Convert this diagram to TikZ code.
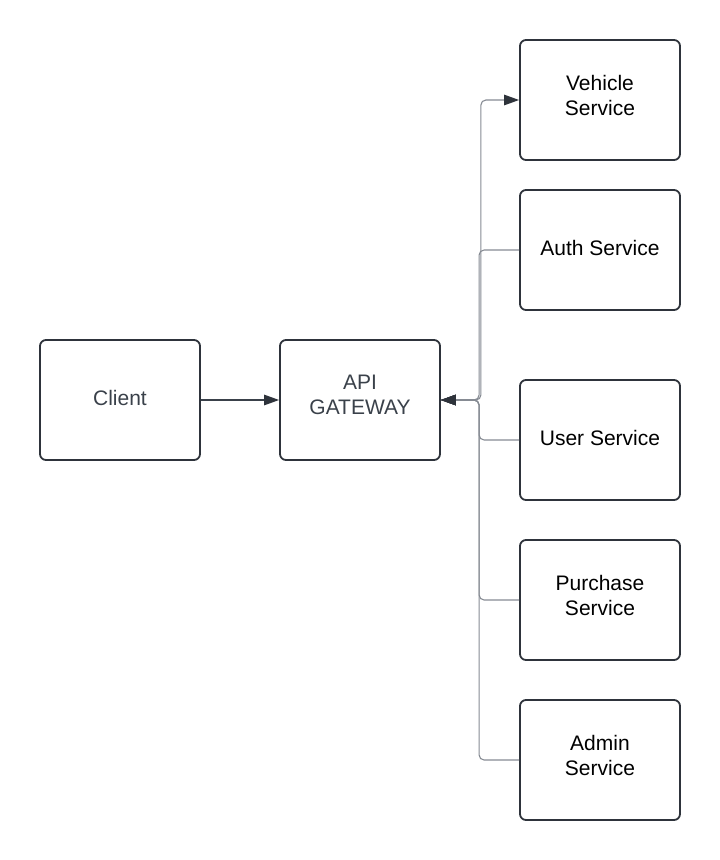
\documentclass[tikz,border=0pt]{standalone}
\usepackage{fontspec}
\setmainfont{Liberation Sans}
\usepackage{tikz}
\usetikzlibrary{arrows.meta,positioning}

\definecolor{boxline}{HTML}{2E333B}
\definecolor{textgrey}{HTML}{3A414A}
\definecolor{linkgrey}{HTML}{868B93}

\begin{document}
\begin{tikzpicture}[x=1pt, y=-1pt,
    box/.style={draw=boxline, line width=1.8pt, rounded corners=6pt,
        minimum width=160pt, minimum height=120pt, align=center,
        text depth=4pt, font=\fontsize{21}{25}\selectfont},
    twoline/.style={text depth=10pt},
    link/.style={draw=linkgrey, line width=1.1pt, rounded corners=5pt},
    tip/.style={-{Triangle[length=15pt,width=10.5pt,fill=boxline,color=boxline]}}]

    %% Background
    \useasboundingbox (0,0) rectangle (720,860);

    % Client and gateway
    \node[box, text=textgrey] (client) at (120,400) {Client};
    \node[box, twoline, text=textgrey] (api) at (360,400) {API\\GATEWAY};

    % Services
    \node[box, twoline] (vehicle) at (600,100) {Vehicle\\Service};
    \node[box] (auth) at (600,250) {Auth Service};
    \node[box] (user) at (600,440) {User Service};
    \node[box, twoline] (purchase) at (600,600) {Purchase\\Service};
    \node[box, twoline] (admin) at (600,760) {Admin\\Service};

    % Client to gateway
    \draw[tip, draw=textgrey, line width=1.1pt] (client.east) -- (api.west);

    % Gateway to services
    \draw[link, tip] (api.east) -- ++(40,0) |- (vehicle.west);
    \foreach \s in {auth,user,purchase,admin}
        \draw[link, tip] (\s.west) -- ++(-40,0) |- (api.east);

\end{tikzpicture}
\end{document}
